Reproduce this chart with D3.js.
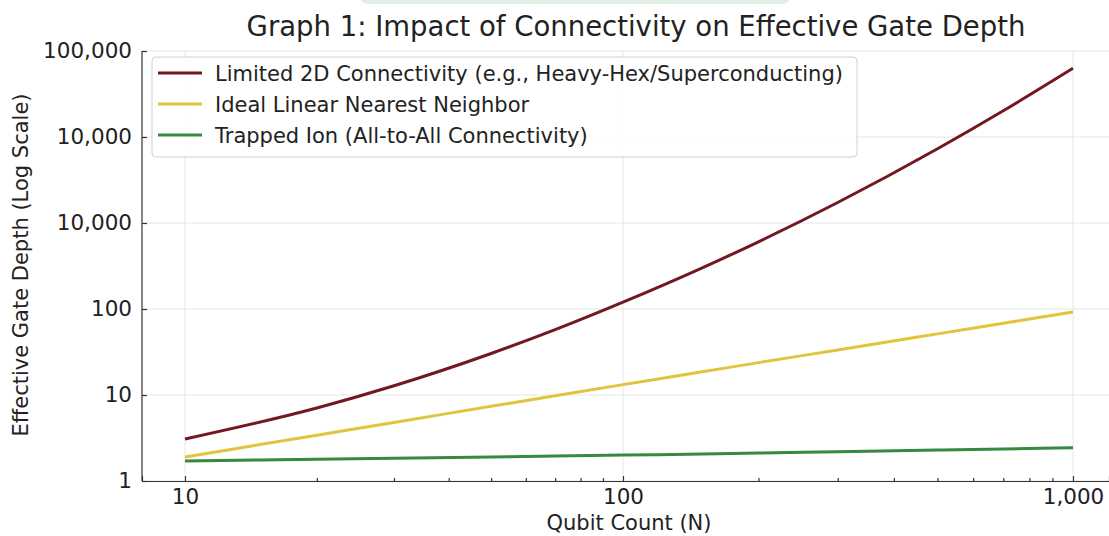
<!DOCTYPE html>
<html>
<head>
<meta charset="utf-8">
<script src="https://cdn.jsdelivr.net/npm/d3@7"></script>
<style>
  body { margin: 0; background: #fff; }
  svg { display: block; font-family: "DejaVu Sans", sans-serif; }
</style>
</head>
<body>
<div id="chart"></div>
<script>
// values
const qubits = [10, 20, 30, 50, 70, 100, 150, 200, 300, 500, 700, 1000];
const limited2D = [3.08, 7.06, 12.8, 30.4, 57.5, 120, 301, 604, 1730, 7300, 20200, 63000];
const linearNN = [1.9, 3.41, 4.8, 7.38, 9.8, 13.2, 18.6, 23.8, 33.4, 51.4, 68.3, 92.3];
const trappedIon = [1.71, 1.79, 1.84, 1.9, 1.95, 2.0, 2.06, 2.11, 2.19, 2.29, 2.36, 2.44];

const seriesNames = [
  'Limited 2D Connectivity (e.g., Heavy-Hex/Superconducting)',
  'Ideal Linear Nearest Neighbor',
  'Trapped Ion (All-to-All Connectivity)'
];
const seriesColors = ['#731820', '#e2c33e', '#348a3e'];

const yTickValues = [1, 10, 100, 1000, 10000, 100000];
const yTickLabels = ['1', '10', '100', '10,000', '10,000', '100,000'];
const xTickValues = [10, 100, 1000];
const xTickLabels = ['10', '100', '1,000'];

const W = 1109, H = 536;
const svg = d3.select('#chart').append('svg').attr('width', W).attr('height', H);

// faint watermark strip at the top
svg.append('rect').attr('x', 360).attr('y', -10).attr('width', 430).attr('height', 14)
  .attr('rx', 8).attr('fill', '#e3efe5');

// the picture's decades are not quite even, so the log scale is piecewise
const x = d3.scaleLog().domain([10, 100, 1000]).range([185, 623, 1073]);
const xAx = d3.scaleLog().domain([x.invert(142), 10, 100, 1000, x.invert(1109)])
  .range([142, 185, 623, 1073, 1109]);
const y = d3.scaleLog().domain([1, 100000]).range([481, 51]);

// grid
const grid = svg.append('g').attr('stroke', '#e6e6e6').attr('stroke-width', 1);
grid.selectAll('.gx').data(xTickValues).join('line')
  .attr('x1', d => x(d)).attr('x2', d => x(d)).attr('y1', 51).attr('y2', 481);
grid.selectAll('.gy').data(yTickValues).join('line')
  .attr('x1', 142).attr('x2', W).attr('y1', d => y(d)).attr('y2', d => y(d));

// lines
const sets = [limited2D, linearNN, trappedIon];
const line = d3.line().x(d => x(d[0])).y(d => y(d[1])).curve(d3.curveMonotoneX);
sets.forEach((vals, i) => {
  svg.append('path')
    .datum(qubits.map((q, j) => [q, vals[j]]))
    .attr('fill', 'none').attr('stroke', seriesColors[i])
    .attr('stroke-width', 3).attr('d', line);
});

// axes
const minorX = [];
[10, 100].forEach(b => { for (let k = 2; k <= 9; k++) minorX.push(b * k); });

const gx = svg.append('g').attr('transform', 'translate(0,481)');
gx.call(d3.axisBottom(xAx).tickValues(xTickValues).tickSize(-5).tickPadding(8)
  .tickFormat((d, i) => xTickLabels[i]));
gx.append('g').call(d3.axisBottom(xAx).tickValues(minorX).tickSize(-3).tickFormat(''))
  .select('.domain').remove();

const gy = svg.append('g').attr('transform', 'translate(142,0)');
gy.call(d3.axisLeft(y).tickValues(yTickValues).tickSize(-5).tickPadding(10)
  .tickFormat((d, i) => yTickLabels[i]));
gy.select('.domain').attr('d', 'M0,51V481');

[gx, gy].forEach(g => {
  g.selectAll('path, line').attr('stroke', '#333').attr('stroke-width', 1.2);
  g.selectAll('text').attr('fill', '#222').style('font-size', '21.5px')
    .style('font-family', '"DejaVu Sans", sans-serif');
});

// labels
svg.append('text').attr('x', 636).attr('y', 36).attr('text-anchor', 'middle')
  .attr('fill', '#222').style('font-size', '27.5px')
  .text('Graph 1: Impact of Connectivity on Effective Gate Depth');
svg.append('text').attr('x', 629).attr('y', 530).attr('text-anchor', 'middle')
  .attr('fill', '#222').style('font-size', '21px').text('Qubit Count (N)');
svg.append('text').attr('transform', 'translate(28,265) rotate(-90)')
  .attr('text-anchor', 'middle').attr('fill', '#222').style('font-size', '21px')
  .text('Effective Gate Depth (Log Scale)');

// legend
const lg = svg.append('g');
lg.append('rect').attr('x', 152).attr('y', 57).attr('width', 705).attr('height', 100)
  .attr('rx', 4).attr('fill', '#fff').attr('fill-opacity', 0.85)
  .attr('stroke', '#d0d0d0');
seriesNames.forEach((name, i) => {
  const ly = 73 + i * 31;
  lg.append('line').attr('x1', 158).attr('x2', 202).attr('y1', ly).attr('y2', ly)
    .attr('stroke', seriesColors[i]).attr('stroke-width', 3);
  lg.append('text').attr('x', 215).attr('y', ly + 7.5).attr('fill', '#222')
    .style('font-size', '21px').text(name);
});
</script>
</body>
</html>
